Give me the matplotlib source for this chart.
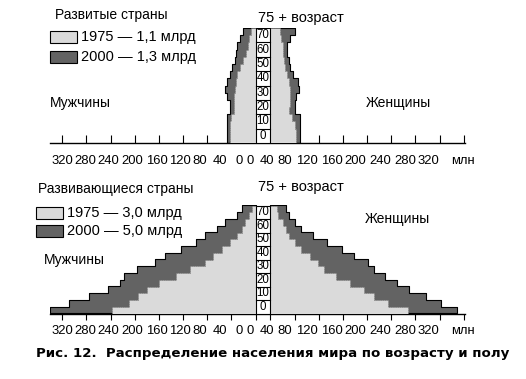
import numpy as np
import matplotlib
matplotlib.use('Agg')
import matplotlib.pyplot as plt
from matplotlib.patches import Rectangle

# ---------------- data (millions, 5-year bands 0-4 ... 75+) ----------------
age_labels = ['0', '10', '20', '30', '40', '50', '60', '70']
tick_values = [0, 40, 80, 120, 160, 200, 240, 280, 320]

dev_male_1975 = [42, 43, 42, 40, 36, 35, 35, 34, 33, 30, 25, 20, 15, 12, 10, 8]
dev_male_2000 = [48, 48, 48, 48, 43, 42, 47, 50, 48, 42, 39, 34, 32, 30, 26, 21]
dev_female_1975 = [43, 43, 40, 36, 31, 32, 33, 33, 31, 28, 24, 22, 21, 20, 18, 16]
dev_female_2000 = [49, 49, 49, 49, 40, 41, 43, 47, 45, 38, 32, 30, 28, 28, 32, 41]

dvg_male_1975 = [237, 209, 195, 180, 159, 131, 109, 84, 71, 56, 43, 31, 23, 17, 10, 5]
dvg_male_2000 = [341, 308, 275, 245, 225, 217, 197, 167, 149, 123, 98, 84, 63, 50, 31, 23]
dvg_female_1975 = [227, 194, 172, 154, 131, 109, 89, 78, 65, 51, 41, 31, 26, 20, 13, 10]
dvg_female_2000 = [308, 283, 257, 230, 209, 189, 172, 161, 139, 119, 93, 71, 51, 41, 30, 26]

# ---------------- style ----------------
W, H = 526, 379
FONT = ['Liberation Sans', 'DejaVu Sans']
LIGHT = '#dadada'
DARK = '#636363'
G = 12.4  # half width of the central age column, in data units

fig = plt.figure(figsize=(W / 100, H / 100), dpi=100)
fig.patch.set_facecolor('white')


def fx(px):
    return px / W


def fy(py):
    return 1 - py / H


def pyramid(ax, m75, m00, f75, f00, tickdir):
    y = np.arange(17)
    for vals, sgn in ((m00, -1), (f00, 1)):
        x = np.append(vals, vals[-1])
        ax.fill_betweenx(y, sgn * G, sgn * (G + x), step='post',
                         facecolor=DARK, edgecolor='black', lw=0.8, zorder=2)
    for vals, sgn in ((m75, -1), (f75, 1)):
        x = np.append(vals, vals[-1])
        ax.fill_betweenx(y, sgn * G, sgn * (G + x), step='post',
                         facecolor=LIGHT, edgecolor='#777777', lw=0.5,
                         linestyle=':', zorder=3)
    ax.add_patch(Rectangle((-G, 0), 2 * G, 16, facecolor='white',
                           edgecolor='black', lw=0.8, zorder=4))
    for k in range(1, 8):
        ax.plot([-G, G], [2 * k, 2 * k], color='black', lw=0.8, zorder=5)
    for k, lab in enumerate(age_labels):
        ax.text(0, 2 * k + 1, lab, ha='center', va='center', fontsize=8.3,
                family=FONT, zorder=6)
    ax.set_xlim(-352.6, 334.4)
    ax.set_ylim(0, 16)
    ticks = [-(G + v) for v in tick_values] + [G + v for v in tick_values]
    ax.set_xticks(ticks)
    ax.set_yticks([])
    ax.tick_params(axis='x', direction=tickdir, length=6 if tickdir == 'in' else 4,
                   width=0.8, labelbottom=False)
    for s in ('left', 'right', 'top'):
        ax.spines[s].set_visible(False)
    ax.spines['bottom'].set_linewidth(1.0)
    ax.set_axisbelow(True)
    ax.patch.set_alpha(0)


def tick_row(py):
    left_px = [62, 85, 108, 132, 157, 180, 200, 220, 239]
    right_px = [250, 267, 285, 307, 332, 355, 380, 405, 428]
    for v, px in zip(reversed(tick_values), left_px):
        fig.text(fx(px), fy(py), str(v), ha='center', va='center',
                 fontsize=9.4, family=FONT)
    for v, px in zip(tick_values, right_px):
        fig.text(fx(px), fy(py), str(v), ha='center', va='center',
                 fontsize=9.4, family=FONT)
    fig.text(fx(463), fy(py), 'млн', ha='center', va='center',
             fontsize=9.4, family=FONT)


def legend(x0, y1, y2, title, ty, t1, t2, tx):
    fig.text(fx(tx), fy(ty), title, ha='left', va='center', fontsize=10,
             family=FONT)
    for yy, col, txt in ((y1, LIGHT, t1), (y2, DARK, t2)):
        fig.patches.append(Rectangle((fx(x0), fy(yy + 6)), 27 / W, 12 / H,
                                     transform=fig.transFigure, facecolor=col,
                                     edgecolor='black', lw=0.8))
        fig.text(fx(x0 + 31), fy(yy), txt, ha='left', va='center',
                 fontsize=10.5, family=FONT)


# ---------------- top: developed ----------------
ax1 = fig.add_axes([fx(50), fy(143), 415 / W, 115 / H])
pyramid(ax1, dev_male_1975, dev_male_2000, dev_female_1975, dev_female_2000, 'in')
tick_row(161)
legend(50, 37, 57, 'Развитые страны', 15, '1975 — 1,1 млрд', '2000 — 1,3 млрд', 55)
fig.text(fx(258), fy(18), '75 + возраст', ha='left', va='center', fontsize=10.5,
         family=FONT)
fig.text(fx(80), fy(103), 'Мужчины', ha='center', va='center', fontsize=10,
         family=FONT)
fig.text(fx(398), fy(103), 'Женщины', ha='center', va='center', fontsize=10,
         family=FONT)

# ---------------- bottom: developing ----------------
ax2 = fig.add_axes([fx(50), fy(313.5), 415 / W, 108 / H])
pyramid(ax2, dvg_male_1975, dvg_male_2000, dvg_female_1975, dvg_female_2000, 'out')
tick_row(331)
legend(36, 213, 231, 'Развивающиеся страны', 189, '1975 — 3,0 млрд',
       '2000 — 5,0 млрд', 38)
fig.text(fx(258), fy(187), '75 + возраст', ha='left', va='center', fontsize=10.5,
         family=FONT)
fig.text(fx(74), fy(260), 'Мужчины', ha='center', va='center', fontsize=10,
         family=FONT)
fig.text(fx(397), fy(219), 'Женщины', ha='center', va='center', fontsize=10,
         family=FONT)

fig.text(fx(36), fy(354), 'Рис. 12.  Распределение населения мира по возрасту и полу',
         ha='left', va='center', fontsize=9.6, fontweight='bold',
         family=['DejaVu Sans'])

fig.savefig('out.png', dpi=100, facecolor='white')
